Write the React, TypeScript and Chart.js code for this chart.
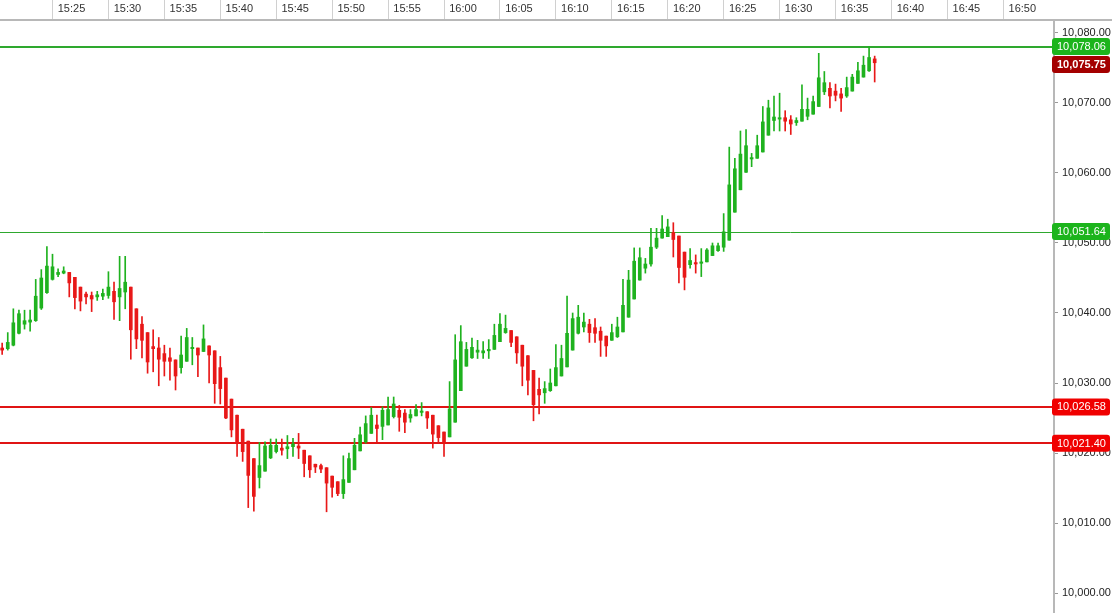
import React, { useEffect, useRef } from "react";
import { Chart, registerables } from "chart.js";

Chart.register(...registerables);

// 30-second candles, first one at 15:20:30
const firstCandle = "15:20:30";
const candleSeconds = 30;

const opens = [
  10035.0, 10034.9, 10035.4, 10037.1, 10038.4, 10038.7, 10038.9, 10040.7, 10042.9, 10044.8,
  10045.5, 10045.7, 10045.8, 10045.1, 10043.7, 10042.7, 10042.5, 10042.3, 10042.4, 10042.5,
  10043.1, 10042.3, 10043.0, 10043.7, 10040.6, 10038.4, 10037.2, 10035.2, 10035.0, 10034.2,
  10033.6, 10033.3, 10032.2, 10033.1, 10034.9, 10035.0, 10034.5, 10035.3, 10034.6, 10032.2,
  10030.7, 10027.7, 10025.4, 10023.4, 10021.7, 10019.2, 10016.5, 10017.4, 10019.3, 10020.2,
  10020.7, 10020.6, 10020.9, 10021.0, 10020.4, 10019.6, 10018.4, 10018.2, 10017.9, 10016.7,
  10015.9, 10014.2, 10015.8, 10017.6, 10020.3, 10021.6, 10022.8, 10024.0, 10023.8, 10024.0,
  10025.2, 10026.1, 10025.7, 10025.0, 10025.3, 10025.8, 10025.9, 10025.4, 10023.9, 10023.0,
  10022.3, 10024.4, 10028.9, 10032.4, 10033.6, 10034.4, 10034.3, 10034.6, 10034.8, 10035.9,
  10037.2, 10037.5, 10036.6, 10035.4, 10033.9, 10031.8, 10029.1, 10028.6, 10028.9, 10029.6,
  10031.0, 10032.3, 10034.7, 10037.1, 10038.0, 10038.4, 10037.9, 10037.4, 10036.7, 10036.1,
  10036.6, 10037.3, 10039.4, 10042.0, 10044.7, 10046.4, 10047.0, 10049.4, 10050.7, 10050.9,
  10051.5, 10051.0, 10048.7, 10046.9, 10047.2, 10047.1, 10047.3, 10048.2, 10048.9, 10049.4,
  10050.4, 10054.4, 10057.6, 10060.1, 10062.0, 10062.1, 10063.0, 10065.4, 10067.5, 10067.7,
  10067.9, 10067.6, 10067.2, 10067.4, 10068.1, 10068.4, 10069.5, 10071.6, 10072.1, 10071.7,
  10071.3, 10071.0, 10071.7, 10072.8, 10073.7, 10074.6, 10076.3,
];

const highs = [
  10035.7, 10037.2, 10040.6, 10040.4, 10040.4, 10040.4, 10044.8, 10046.2, 10049.5, 10048.4,
  10046.3, 10046.6, 10045.8, 10045.1, 10043.7, 10043.0, 10043.0, 10043.1, 10043.4, 10045.9,
  10044.4, 10048.1, 10048.1, 10043.7, 10040.6, 10039.5, 10037.2, 10037.6, 10036.5, 10035.4,
  10035.0, 10033.3, 10036.7, 10037.8, 10036.5, 10035.0, 10038.3, 10035.3, 10034.6, 10033.8,
  10030.7, 10027.7, 10025.4, 10023.4, 10021.7, 10019.2, 10021.5, 10021.6, 10022.0, 10022.0,
  10022.0, 10022.5, 10022.1, 10022.8, 10020.4, 10019.6, 10018.4, 10018.4, 10017.9, 10016.7,
  10015.9, 10019.6, 10020.0, 10022.1, 10023.7, 10025.3, 10026.5, 10025.4, 10026.6, 10028.0,
  10028.0, 10026.8, 10026.2, 10026.2, 10026.9, 10027.2, 10025.9, 10025.4, 10023.9, 10023.0,
  10030.2, 10036.9, 10038.2, 10035.8, 10036.4, 10036.1, 10035.9, 10036.2, 10038.4, 10039.9,
  10039.7, 10037.5, 10036.6, 10035.4, 10033.9, 10031.8, 10030.7, 10030.2, 10032.0, 10035.5,
  10035.4, 10042.4, 10040.0, 10041.1, 10040.0, 10039.1, 10039.2, 10038.0, 10036.7, 10038.4,
  10039.4, 10044.8, 10046.1, 10049.3, 10049.3, 10047.8, 10052.1, 10052.1, 10053.9, 10053.4,
  10052.9, 10051.0, 10048.7, 10049.2, 10048.3, 10049.2, 10049.2, 10050.0, 10050.0, 10054.2,
  10063.7, 10062.1, 10066.0, 10066.2, 10062.8, 10065.4, 10069.5, 10070.4, 10071.0, 10071.4,
  10068.9, 10068.2, 10067.9, 10072.6, 10070.7, 10071.0, 10077.1, 10074.5, 10072.9, 10072.7,
  10072.1, 10073.7, 10074.1, 10075.8, 10076.7, 10078.1, 10076.7,
];

const lows = [
  10034.1, 10034.7, 10035.3, 10037.0, 10037.7, 10037.4, 10038.8, 10040.5, 10042.8, 10044.7,
  10045.2, 10045.6, 10042.3, 10040.6, 10040.3, 10041.3, 10040.2, 10041.8, 10041.9, 10042.1,
  10039.1, 10038.9, 10040.6, 10033.4, 10034.9, 10033.6, 10031.4, 10031.6, 10029.6, 10031.0,
  10030.4, 10029.0, 10031.4, 10033.1, 10032.6, 10030.9, 10034.5, 10030.0, 10027.1, 10027.0,
  10024.9, 10022.3, 10019.5, 10018.8, 10012.2, 10011.7, 10015.0, 10017.4, 10019.2, 10020.0,
  10019.7, 10019.2, 10019.5, 10019.2, 10016.6, 10016.5, 10017.2, 10017.2, 10011.6, 10013.7,
  10013.9, 10013.5, 10015.8, 10017.6, 10020.3, 10021.4, 10022.8, 10021.6, 10021.9, 10024.0,
  10025.0, 10023.1, 10022.9, 10024.4, 10025.3, 10025.3, 10023.5, 10020.7, 10021.5, 10019.5,
  10022.3, 10024.4, 10028.9, 10032.4, 10033.5, 10033.5, 10033.5, 10033.5, 10034.8, 10035.9,
  10037.1, 10035.2, 10032.8, 10029.6, 10028.3, 10024.6, 10025.6, 10027.1, 10028.8, 10029.6,
  10031.0, 10032.3, 10034.7, 10037.0, 10037.3, 10035.8, 10035.8, 10033.8, 10033.8, 10036.1,
  10036.5, 10037.3, 10039.4, 10042.0, 10044.7, 10045.7, 10046.7, 10049.2, 10050.7, 10050.9,
  10048.0, 10044.3, 10043.3, 10046.4, 10045.7, 10045.2, 10047.3, 10048.2, 10048.8, 10048.8,
  10050.4, 10054.4, 10057.6, 10060.1, 10060.9, 10062.1, 10063.0, 10065.4, 10066.0, 10066.0,
  10066.0, 10065.5, 10066.8, 10067.4, 10067.6, 10068.4, 10069.5, 10071.2, 10069.3, 10070.3,
  10068.8, 10070.8, 10071.7, 10072.8, 10073.7, 10074.5, 10073.0,
];

const closes = [
  10034.7, 10035.8, 10038.6, 10039.9, 10038.9, 10039.0, 10042.4, 10045.0, 10046.7, 10046.6,
  10045.8, 10046.0, 10044.3, 10042.2, 10041.7, 10042.3, 10042.0, 10042.6, 10042.8, 10043.7,
  10041.6, 10043.5, 10044.4, 10037.6, 10036.3, 10036.1, 10033.0, 10034.9, 10033.4, 10033.1,
  10033.1, 10031.0, 10034.0, 10036.5, 10035.1, 10034.0, 10036.3, 10034.0, 10029.9, 10029.2,
  10025.0, 10023.3, 10021.4, 10020.2, 10016.8, 10013.8, 10018.2, 10021.0, 10021.1, 10021.1,
  10020.4, 10020.9, 10021.3, 10020.7, 10018.5, 10017.6, 10018.0, 10017.7, 10015.7, 10015.1,
  10014.2, 10016.2, 10019.2, 10021.1, 10022.6, 10024.2, 10025.4, 10023.5, 10026.1, 10026.2,
  10027.0, 10025.1, 10024.4, 10025.5, 10026.2, 10026.0, 10025.0, 10022.7, 10022.2, 10021.5,
  10026.3, 10033.3, 10035.9, 10034.8, 10035.1, 10034.7, 10034.6, 10034.8, 10036.8, 10038.4,
  10037.8, 10035.8, 10034.3, 10032.4, 10030.4, 10026.9, 10028.3, 10029.2, 10030.0, 10032.2,
  10033.5, 10037.1, 10039.2, 10039.4, 10038.7, 10037.2, 10037.1, 10036.1, 10035.3, 10037.2,
  10038.0, 10041.1, 10044.7, 10047.4, 10047.9, 10047.0, 10049.4, 10050.7, 10052.0, 10052.3,
  10050.5, 10046.5, 10045.1, 10047.5, 10047.0, 10047.3, 10049.0, 10049.6, 10049.6, 10051.6,
  10058.3, 10060.6, 10062.7, 10063.9, 10062.2, 10063.9, 10067.3, 10069.3, 10068.0, 10067.9,
  10067.4, 10067.0, 10067.5, 10069.1, 10069.1, 10070.2, 10073.6, 10072.9, 10071.0, 10071.1,
  10070.7, 10072.2, 10073.7, 10074.6, 10075.4, 10076.5, 10075.75,
];

const timeTicks = [
  "15:25", "15:30", "15:35", "15:40", "15:45", "15:50", "15:55", "16:00", "16:05",
  "16:10", "16:15", "16:20", "16:25", "16:30", "16:35", "16:40", "16:45", "16:50",
];
const priceTicks = [10000, 10010, 10020, 10030, 10040, 10050, 10060, 10070, 10080];

// horizontal levels drawn across the chart
const levelValues = [10078.06, 10051.64, 10026.58, 10021.4];
const levelStyles = [
  { line: "#2ea82e", width: 2, box: "#1cb41c" },
  { line: "#2ea82e", width: 1, box: "#1cb41c" },
  { line: "#e01414", width: 2, box: "#f00000" },
  { line: "#e01414", width: 2, box: "#f00000" },
];

const GREEN = "#1fb21f";
const RED = "#e81818";
const FONT = "'Liberation Sans', Arial, sans-serif";

// minutes since 15:00
const toMin = (t: string) => {
  const [h, m, s] = t.split(":").map(Number);
  return (h - 15) * 60 + m + (s || 0) / 60;
};
const candleX = (i: number) => toMin(firstCandle) + (i * candleSeconds) / 60;
const fmt = (v: number) =>
  v.toLocaleString("en-US", { minimumFractionDigits: 2, maximumFractionDigits: 2 });

const levelsPlugin = {
  id: "levels",
  beforeDatasetsDraw(chart: any) {
    const { ctx, chartArea, scales } = chart;
    ctx.save();
    levelValues.forEach((v, i) => {
      const y = Math.round(scales.y.getPixelForValue(v)) + (levelStyles[i].width === 1 ? 0.5 : 0);
      ctx.strokeStyle = levelStyles[i].line;
      ctx.lineWidth = levelStyles[i].width;
      ctx.beginPath();
      ctx.moveTo(chartArea.left, y);
      ctx.lineTo(chartArea.right, y);
      ctx.stroke();
    });
    ctx.restore();
  },
  afterDraw(chart: any) {
    const { ctx, chartArea, scales, width } = chart;
    ctx.save();
    // header rule continues over the price axis
    ctx.strokeStyle = "#b8b8b8";
    ctx.lineWidth = 2;
    ctx.beginPath();
    ctx.moveTo(chartArea.right, chartArea.top);
    ctx.lineTo(width, chartArea.top);
    ctx.stroke();

    const last = closes[closes.length - 1];
    const boxes = [
      ...levelValues.map((v, i) => ({ v, color: levelStyles[i].box, bold: false })),
      { v: last, color: "#a40000", bold: true },
    ].sort((a, b) => b.v - a.v);

    const h = 17;
    let prevBottom = -Infinity;
    boxes.forEach((b) => {
      let top = scales.y.getPixelForValue(b.v) - h / 2;
      if (top < prevBottom + 1) top = prevBottom + 1;
      prevBottom = top + h;
      const x = chartArea.right - 2;
      const w = width - 2 - x;
      ctx.fillStyle = b.color;
      ctx.beginPath();
      ctx.roundRect(x, top, w, h, 3);
      ctx.fill();
      ctx.fillStyle = "#ffffff";
      ctx.font = `${b.bold ? "bold " : ""}11px ${FONT}`;
      ctx.textBaseline = "middle";
      ctx.textAlign = "left";
      ctx.fillText(fmt(b.v), x + 5, top + h / 2 + 0.5);
    });
    ctx.restore();
  },
};

export default function App() {
  const ref = useRef<HTMLCanvasElement | null>(null);

  useEffect(() => {
    if (!ref.current) return;
    const colors = closes.map((c, i) => (c >= opens[i] ? GREEN : RED));

    const chart = new Chart(ref.current, {
      type: "bar",
      data: {
        datasets: [
          {
            label: "wick",
            data: closes.map((_, i) => ({ x: candleX(i), y: [lows[i], highs[i]] })) as any,
            backgroundColor: colors,
            barThickness: 1,
            grouped: false,
          },
          {
            label: "body",
            data: closes.map((c, i) => ({ x: candleX(i), y: [opens[i], c] })) as any,
            backgroundColor: colors,
            barThickness: 3,
            minBarLength: 1,
            grouped: false,
          },
        ],
      },
      options: {
        responsive: false,
        animation: false,
        layout: { padding: 0 },
        plugins: {
          legend: { display: false },
          tooltip: { enabled: false },
        },
        scales: {
          x: {
            type: "linear",
            position: "top",
            min: 20.307,
            max: 114.531,
            offset: false,
            grid: {
              offset: false,
              drawOnChartArea: false,
              tickLength: 20,
              color: "#d0d0d0",
            },
            border: { display: true, color: "#b8b8b8", width: 2 },
            afterBuildTicks: (s: any) => {
              s.ticks = timeTicks.map((t) => ({ value: toMin(t) }));
            },
            afterFit: (s: any) => {
              s.height = 20;
              s.paddingLeft = 0;
              s.paddingRight = 0;
            },
            ticks: {
              autoSkip: false,
              maxRotation: 0,
              padding: -16,
              labelOffset: 19,
              color: "#333",
              font: { family: FONT, size: 11 },
              callback: (_v: any, i: number) => timeTicks[i],
            },
          },
          y: {
            type: "linear",
            position: "right",
            min: 9997.143,
            max: 10081.857,
            grid: {
              drawOnChartArea: false,
              tickLength: 4,
              color: "#999",
            },
            border: { display: true, color: "#b8b8b8", width: 2 },
            afterBuildTicks: (s: any) => {
              s.ticks = priceTicks.map((v) => ({ value: v }));
            },
            afterFit: (s: any) => {
              s.width = 58;
              s.paddingTop = 0;
              s.paddingBottom = 0;
            },
            ticks: {
              padding: 4,
              color: "#222",
              font: { family: FONT, size: 11 },
              callback: (v: any) => fmt(Number(v)),
            },
          },
        },
      },
      plugins: [levelsPlugin],
    });

    return () => chart.destroy();
  }, []);

  return (
    <div style={{ position: "fixed", left: 0, top: 0, background: "#fff" }}>
      <canvas ref={ref} width={1112} height={613} style={{ display: "block" }} />
    </div>
  );
}
